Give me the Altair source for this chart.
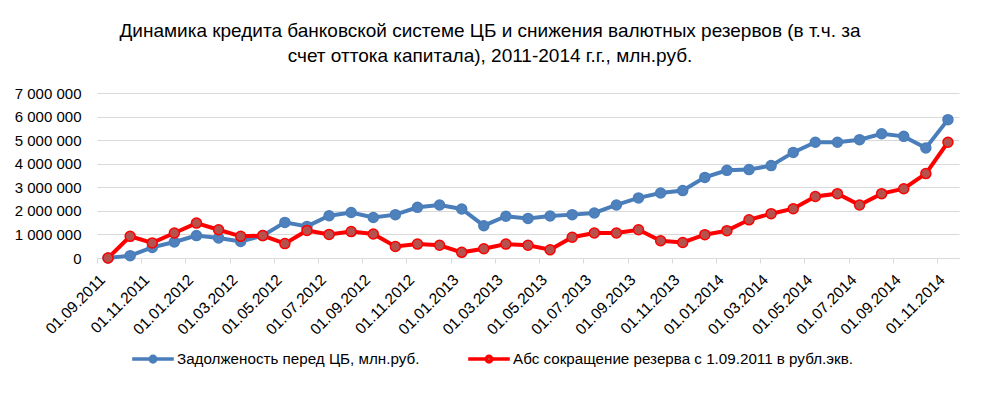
import json
import altair as alt
import pandas as pd

dates = [
    "01.09.2011", "01.10.2011", "01.11.2011", "01.12.2011",
    "01.01.2012", "01.02.2012", "01.03.2012", "01.04.2012", "01.05.2012", "01.06.2012",
    "01.07.2012", "01.08.2012", "01.09.2012", "01.10.2012", "01.11.2012", "01.12.2012",
    "01.01.2013", "01.02.2013", "01.03.2013", "01.04.2013", "01.05.2013", "01.06.2013",
    "01.07.2013", "01.08.2013", "01.09.2013", "01.10.2013", "01.11.2013", "01.12.2013",
    "01.01.2014", "01.02.2014", "01.03.2014", "01.04.2014", "01.05.2014", "01.06.2014",
    "01.07.2014", "01.08.2014", "01.09.2014", "01.10.2014", "01.11.2014",
]

debt = [
    0, 100000, 450000, 680000, 950000, 850000, 700000, 950000, 1510000, 1340000,
    1790000, 1930000, 1720000, 1840000, 2150000, 2250000, 2080000, 1370000, 1770000, 1680000,
    1780000, 1840000, 1910000, 2250000, 2550000, 2760000, 2860000, 3420000, 3720000, 3750000,
    3920000, 4480000, 4910000, 4910000, 5020000, 5270000, 5160000, 4670000, 5870000,
]

reserve_drop = [
    0, 920000, 640000, 1060000, 1480000, 1200000, 920000, 950000, 610000, 1170000,
    1000000, 1120000, 1020000, 490000, 590000, 540000, 240000, 390000, 590000, 540000,
    350000, 880000, 1060000, 1060000, 1200000, 730000, 660000, 990000, 1160000, 1620000,
    1880000, 2090000, 2610000, 2730000, 2250000, 2730000, 2940000, 3580000, 4910000,
]

series_names = [
    "Задолженость перед ЦБ, млн.руб.",
    "Абс сокращение резерва с 1.09.2011 в рубл.экв.",
]
line_colors = ["#4A7EBB", "#FF0000"]
fill_colors = ["#4F81BD", "#B5524E"]

title_lines = [
    "Динамика кредита банковской системе ЦБ и снижения валютных резервов (в т.ч. за",
    "счет оттока капитала), 2011-2014 г.г., млн.руб.",
]

rows = []
for i, d in enumerate(dates):
    rows.append({"idx": i, "date": d, "series": series_names[0], "value": debt[i]})
    rows.append({"idx": i, "date": d, "series": series_names[1], "value": reserve_drop[i]})
df = pd.DataFrame(rows)

FONT = "Liberation Sans"
label_expr = json.dumps(dates) + "[datum.value]"

x_enc = alt.X(
    "idx:Q",
    scale=alt.Scale(domain=[-0.5, 38.5], nice=False, zero=False),
    axis=alt.Axis(
        title=None,
        values=list(range(0, 39, 2)),
        labelExpr=label_expr,
        labelAngle=-45,
        labelFontSize=15.5,
        labelColor="#000000",
        labelPadding=9,
        labelOverlap=False,
        labelBound=False,
        labelFlush=False,
        tickOffset=-11,
        tickSize=5,
        tickColor="#D9D9D9",
        domainColor="#D9D9D9",
        grid=False,
    ),
)
y_enc = alt.Y(
    "value:Q",
    scale=alt.Scale(domain=[0, 7000000], nice=False),
    axis=alt.Axis(
        title=None,
        values=[0, 1000000, 2000000, 3000000, 4000000, 5000000, 6000000, 7000000],
        labelExpr="replace(format(datum.value, ','), /,/g, ' ')",
        labelFontSize=15,
        labelColor="#000000",
        labelPadding=16,
        labelOverlap=False,
        domain=False,
        ticks=False,
        gridColor="#D9D9D9",
        gridWidth=1,
    ),
)

stroke_scale = alt.Scale(domain=series_names, range=line_colors)
fill_scale = alt.Scale(domain=series_names, range=fill_colors)

legend = alt.Legend(
    title=None,
    orient="none",
    legendX=46,
    legendY=256,
    direction="horizontal",
    symbolType="M-2.6,0H-0.35M0.35,0H2.6M-0.35,0A0.35,0.35 0 1,0 0.35,0A0.35,0.35 0 1,0 -0.35,0",
    symbolSize=256,
    symbolStrokeWidth=3.5,
    labelFontSize=15.2,
    labelColor="#000000",
    labelFont=FONT,
    labelOffset=14,
    labelLimit=500,
    columnPadding=41,
    symbolOffset=0,
)

lines = alt.Chart(df).mark_line(strokeWidth=4).encode(
    x=x_enc,
    y=y_enc,
    stroke=alt.Stroke("series:N", scale=stroke_scale, legend=legend),
    detail="series:N",
)

points = alt.Chart(df).mark_point(filled=True, size=100, strokeWidth=1.5, opacity=1).encode(
    x=x_enc,
    y=y_enc,
    fill=alt.Fill("series:N", scale=fill_scale, legend=legend),
    stroke=alt.Stroke("series:N", scale=stroke_scale, legend=legend),
)

chart = (
    alt.layer(lines, points)
    .properties(
        width=862,
        height=165,
        autosize=alt.AutoSizeParams(type="none"),
        padding={"left": 89, "top": 85, "right": 10, "bottom": 135},
        title=alt.TitleParams(
            text=title_lines,
            font=FONT,
            fontSize=19,
            fontWeight="normal",
            color="#000000",
            anchor="middle",
            dx=-38,
            offset=20,
            lineHeight=25,
        ),
        background="#FFFFFF",
    )
    .configure_view(stroke=None)
    .configure_axis(labelFont=FONT)
)

chart.save("out.html", embed_options={"renderer": "svg", "actions": False})
